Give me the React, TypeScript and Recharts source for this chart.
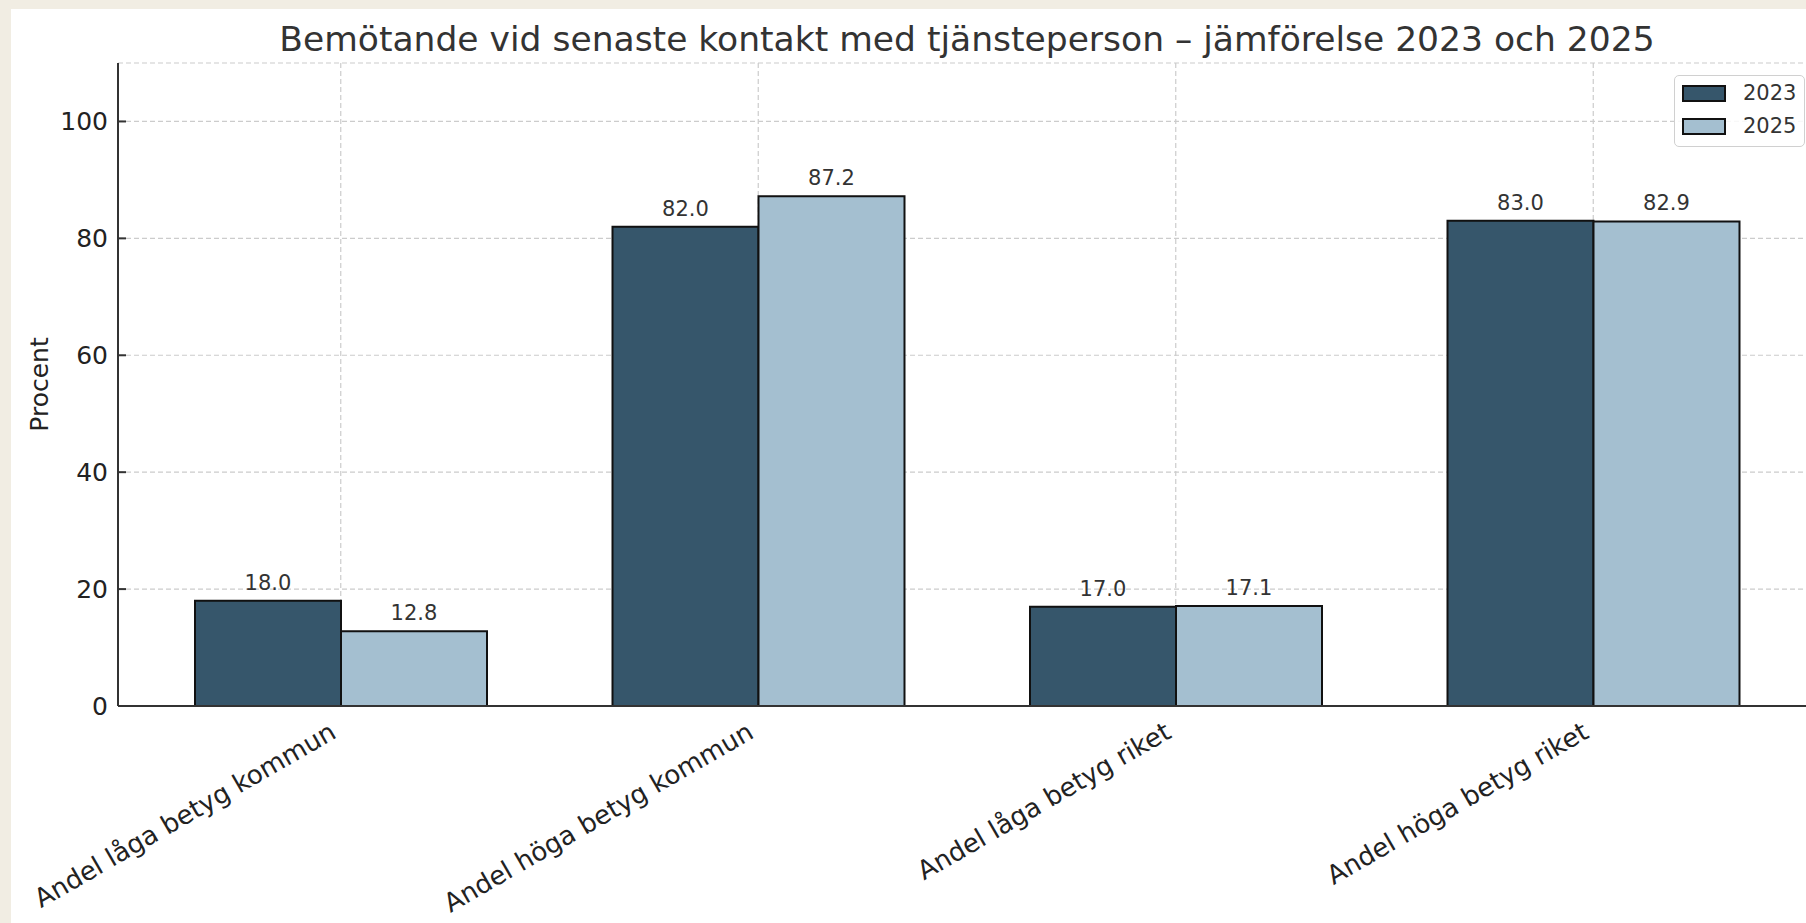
import React from "react";
import {
  BarChart,
  Bar,
  XAxis,
  YAxis,
  CartesianGrid,
  LabelList,
} from "recharts";

const categories = [
  "Andel låga betyg kommun",
  "Andel höga betyg kommun",
  "Andel låga betyg riket",
  "Andel höga betyg riket",
];
const values2023 = [18.0, 82.0, 17.0, 83.0];
const values2025 = [12.8, 87.2, 17.1, 82.9];
const yTicks = [0, 20, 40, 60, 80, 100];

const FONT = "'DejaVu Sans', sans-serif";
const DARK = "#36566b";
const LIGHT = "#a4bfd0";

const data = categories.map((name, i) => ({
  name,
  y2023: values2023[i],
  y2025: values2025[i],
}));

const XTick = (props: any) => {
  const { x, y, payload } = props;
  return (
    <g transform={`translate(${x - 3},${y + 31})`}>
      <text
        transform="rotate(-30)"
        textAnchor="end"
        fontSize={26}
        fontFamily={FONT}
        fill="#222"
      >
        {payload.value}
      </text>
    </g>
  );
};

const YTick = (props: any) => {
  const { x, y, payload } = props;
  return (
    <g>
      <line x1={x + 10} x2={x + 18} y1={y} y2={y} stroke="#333" strokeWidth={2} />
      <text
        x={x}
        y={y}
        dy={9}
        textAnchor="end"
        fontSize={25}
        fontFamily={FONT}
        fill="#222"
      >
        {payload.value}
      </text>
    </g>
  );
};

const LegendBox = () => (
  <div
    style={{
      position: "absolute",
      left: 1674,
      top: 75,
      width: 131,
      height: 72,
      boxSizing: "border-box",
      border: "1.5px solid #d0d0d0",
      borderRadius: 5,
      background: "rgba(255,255,255,0.85)",
      fontFamily: FONT,
      fontSize: 21,
      color: "#333",
    }}
  >
    {[
      { label: "2023", color: DARK, top: 9 },
      { label: "2025", color: LIGHT, top: 42 },
    ].map((item) => (
      <div key={item.label}>
        <div
          style={{
            position: "absolute",
            left: 7,
            top: item.top,
            width: 44,
            height: 17,
            boxSizing: "border-box",
            background: item.color,
            border: "2px solid #111",
          }}
        />
        <div
          style={{
            position: "absolute",
            left: 68,
            top: item.top - 6,
            lineHeight: "28px",
          }}
        >
          {item.label}
        </div>
      </div>
    ))}
  </div>
);

export default function App() {
  return (
    <div
      style={{
        position: "fixed",
        left: 0,
        top: 0,
        width: 1806,
        height: 923,
        overflow: "hidden",
        background: "#f1ede3",
      }}
    >
      <div
        style={{
          position: "absolute",
          left: 11,
          top: 9,
          width: 1900,
          height: 1000,
          background: "#fff",
        }}
      />
      <div
        style={{
          position: "absolute",
          left: 0,
          top: 22,
          width: 1934,
          textAlign: "center",
          fontFamily: FONT,
          fontSize: 34.5,
          lineHeight: "35px",
          color: "#333",
          whiteSpace: "nowrap",
        }}
      >
        Bemötande vid senaste kontakt med tjänsteperson – jämförelse 2023 och 2025
      </div>
      <div style={{ position: "absolute", left: 0, top: 0 }}>
        <BarChart
          width={1830}
          height={923}
          data={data}
          margin={{ top: 63, right: 14, left: 18, bottom: 67 }}
          barGap={0}
          barSize={146}
        >
          <CartesianGrid
            stroke="#cccccc"
            strokeDasharray="5 3"
            strokeWidth={1.2}
          />
          <XAxis
            dataKey="name"
            interval={0}
            height={150}
            padding={{ left: 14, right: 14 }}
            tickSize={0}
            tickMargin={0}
            tickLine={false}
            axisLine={{ stroke: "#333", strokeWidth: 2 }}
            tick={<XTick />}
          />
          <YAxis
            width={100}
            domain={[0, 110]}
            ticks={yTicks}
            tickSize={0}
            tickMargin={10}
            tickLine={false}
            axisLine={{ stroke: "#333", strokeWidth: 2 }}
            tick={<YTick />}
            label={{
              value: "Procent",
              angle: -90,
              position: "insideLeft",
              offset: 21,
              style: {
                textAnchor: "middle",
                fontSize: 25,
                fontFamily: FONT,
                fill: "#222",
              },
            }}
          />
          <Bar
            dataKey="y2023"
            name="2023"
            fill={DARK}
            stroke="#111"
            strokeWidth={2}
            isAnimationActive={false}
          >
            <LabelList
              dataKey="y2023"
              position="top"
              offset={11}
              formatter={(v: any) => Number(v).toFixed(1)}
              style={{ fontSize: 21, fontFamily: FONT, fill: "#333" }}
            />
          </Bar>
          <Bar
            dataKey="y2025"
            name="2025"
            fill={LIGHT}
            stroke="#111"
            strokeWidth={2}
            isAnimationActive={false}
          >
            <LabelList
              dataKey="y2025"
              position="top"
              offset={11}
              formatter={(v: any) => Number(v).toFixed(1)}
              style={{ fontSize: 21, fontFamily: FONT, fill: "#333" }}
            />
          </Bar>
        </BarChart>
      </div>
      <LegendBox />
    </div>
  );
}
